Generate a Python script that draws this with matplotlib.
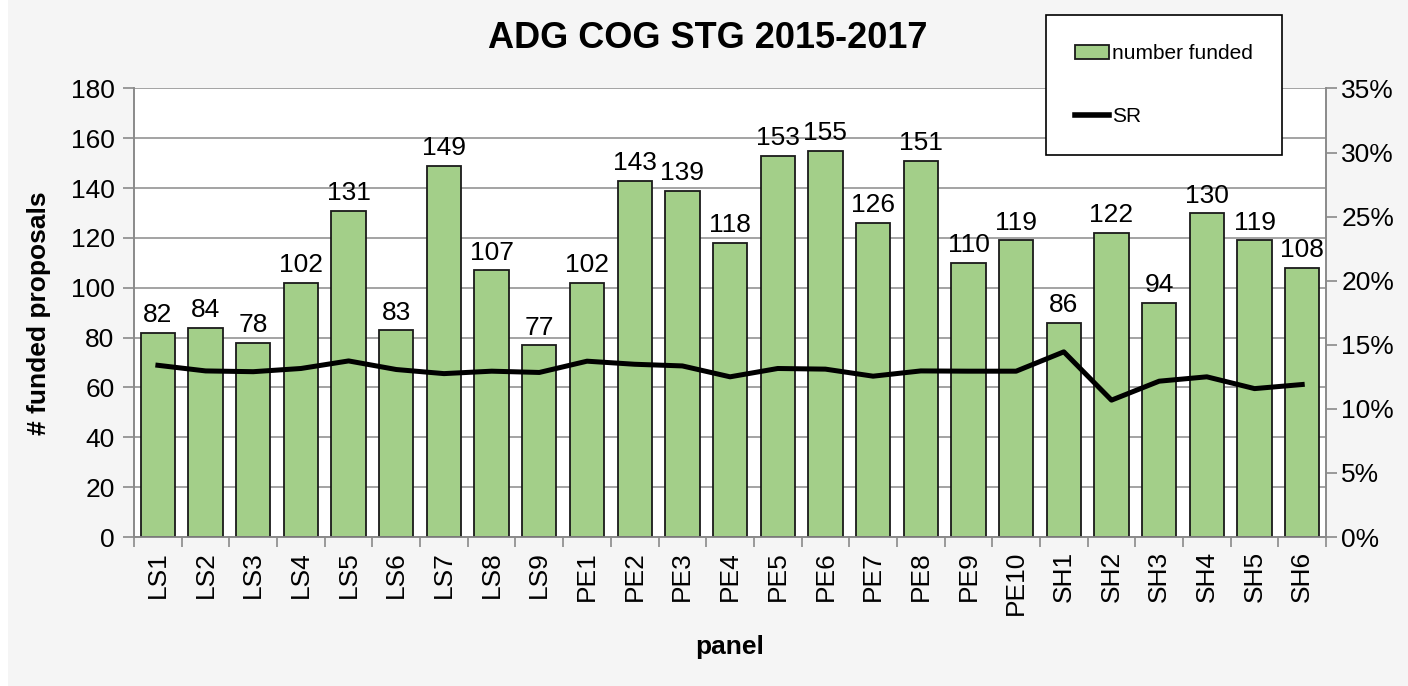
import numpy as np
import matplotlib
matplotlib.use('Agg')
import matplotlib.pyplot as plt
from matplotlib.patches import Rectangle
from matplotlib.lines import Line2D
from matplotlib.ticker import FuncFormatter

plt.rcParams['font.family'] = ['Liberation Sans', 'DejaVu Sans']

# data
panels = ['LS1', 'LS2', 'LS3', 'LS4', 'LS5', 'LS6', 'LS7', 'LS8', 'LS9',
          'PE1', 'PE2', 'PE3', 'PE4', 'PE5', 'PE6', 'PE7', 'PE8', 'PE9', 'PE10',
          'SH1', 'SH2', 'SH3', 'SH4', 'SH5', 'SH6']
funded = [82, 84, 78, 102, 131, 83, 149, 107, 77,
          102, 143, 139, 118, 153, 155, 126, 151, 110, 119,
          86, 122, 94, 130, 119, 108]
sr = [13.4, 12.96, 12.9, 13.15, 13.74, 13.07, 12.75, 12.94, 12.84,
      13.72, 13.48, 13.35, 12.5, 13.15, 13.1, 12.55, 12.96, 12.94, 12.94,
      14.45, 10.68, 12.16, 12.5, 11.58, 11.9]

bar_color = '#a3cf89'
grid_color = '#8a8a8a'
fs = 19

fig = plt.figure(figsize=(14.08, 6.86), dpi=100, facecolor='white')
# light grey panel behind the chart
fig.patches.append(Rectangle((8 / 1408, 0), 1, 1, transform=fig.transFigure,
                             facecolor='#f5f5f5', edgecolor='none', zorder=-10))

ax = fig.add_axes([0.0952, 0.2172, 0.9418 - 0.0952, 0.871 - 0.2172])
ax.set_facecolor('white')
x = np.arange(len(panels))

ax.bar(x, funded, width=0.72, color=bar_color, edgecolor='#1a1a1a', linewidth=1.3, zorder=3)
for xi, v in zip(x, funded):
    ax.annotate(str(v), (xi, v), xytext=(0, 4), textcoords='offset points',
                ha='center', va='bottom', fontsize=fs, zorder=5)

ax.set_xlim(-0.5, len(panels) - 0.5)
ax.set_ylim(0, 180)
ax.set_yticks(np.arange(0, 181, 20))
ax.yaxis.grid(True, color=grid_color, linewidth=1.1, zorder=0)
ax.set_axisbelow(True)

ax.set_xticks(x)
ax.set_xticklabels(panels, rotation=90, fontsize=fs)
ax.set_xticks(np.arange(-0.5, len(panels), 1), minor=True)
ax.tick_params(axis='x', which='major', length=0, pad=10)
ax.tick_params(axis='x', which='minor', length=7, color=grid_color, width=1.2, direction='out')
ax.tick_params(axis='y', labelsize=fs, length=8, color=grid_color, width=1.2, pad=6)

for s in ['left', 'bottom', 'top', 'right']:
    ax.spines[s].set_color(grid_color)
    ax.spines[s].set_linewidth(1.2)
ax.spines['top'].set_visible(False)

ax.set_xlabel('panel', fontsize=fs, fontweight='bold', labelpad=14)
ax.set_ylabel('# funded proposals', fontsize=fs, fontweight='bold', labelpad=14)

# secondary axis - success rate
ax2 = ax.twinx()
ax2.plot(x, sr, color='black', linewidth=3.6, zorder=6)
ax2.set_ylim(0, 35)
ax2.set_yticks(np.arange(0, 36, 5))
ax2.yaxis.set_major_formatter(FuncFormatter(lambda v, p: '{:d}%'.format(int(v))))
ax2.tick_params(axis='y', labelsize=fs, length=8, color=grid_color, width=1.2, pad=3)
for s in ['left', 'bottom', 'top', 'right']:
    ax2.spines[s].set_color(grid_color)
    ax2.spines[s].set_linewidth(1.2)
ax2.spines['top'].set_visible(False)

fig.text(708 / 1408, 1 - 38 / 686, 'ADG COG STG 2015-2017', ha='center', va='center',
         fontsize=26, fontweight='bold')

handles = [Rectangle((0, 0), 1, 1, facecolor=bar_color, edgecolor='#1a1a1a', linewidth=1.3),
           Line2D([0], [0], color='black', linewidth=4)]
leg = fig.legend(handles, ['number funded', 'SR'], loc='upper left',
                 bbox_to_anchor=(1046 / 1408, 1 - 15 / 686), bbox_transform=fig.transFigure,
                 fontsize=15, frameon=True, fancybox=False, borderpad=1.4,
                 labelspacing=2.1, handletextpad=0.15, handlelength=1.6, borderaxespad=0)
leg.get_frame().set_edgecolor('black')
leg.get_frame().set_linewidth(1.2)
leg.get_frame().set_facecolor('white')
leg.get_frame().set_alpha(1)
leg.set_zorder(20)

plt.savefig('out.png', dpi=100, facecolor=fig.get_facecolor())
